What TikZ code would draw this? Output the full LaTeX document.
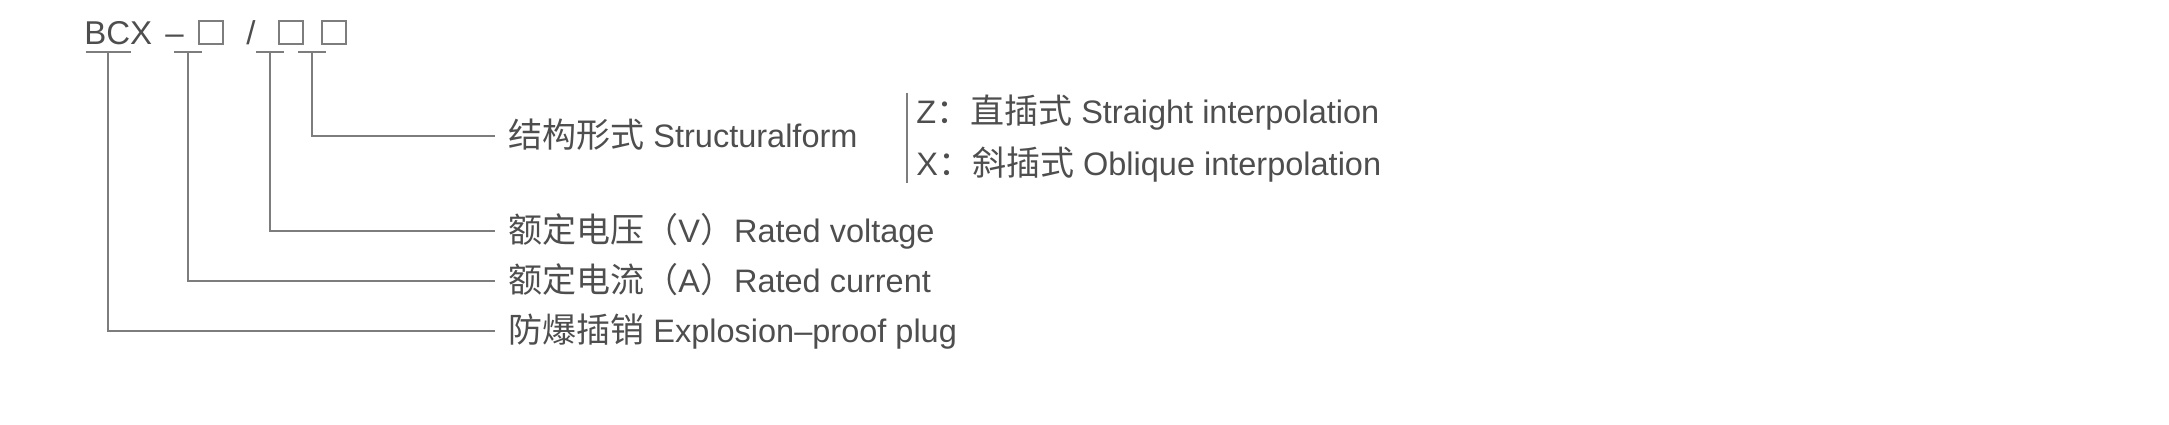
\documentclass[tikz,border=0pt]{standalone}
\usepackage{fontspec}
\setmainfont{Liberation Sans}
\newfontfamily\cjk[Scale=1.046]{Noto Sans CJK SC}
\definecolor{txtgray}{RGB}{78,78,78}
\definecolor{linegray}{RGB}{125,125,125}
\tikzset{
  leader/.style={draw=linegray, line width=0.8pt},
  codetext/.style={anchor=base west, inner sep=0pt, text=txtgray, font=\fontsize{16.5pt}{18pt}\selectfont},
  slot/.style={draw=linegray, line width=0.9pt, inner sep=0pt, minimum width=12.3pt, minimum height=11.8pt},
  desc/.style={anchor=west, inner ysep=0pt, inner xsep=6.5pt, text=txtgray, text height=15pt, text depth=4pt, font=\fontsize{16.25pt}{18pt}\selectfont},
  option/.style={desc, inner xsep=4.5pt},
}
\begin{document}
\begin{tikzpicture}[x=0.5pt,y=-0.5pt]
    \useasboundingbox (0,0) rectangle (2169,424);

    % Model code
    \node[codetext] (bcx) at (84,44) {BCX};
    \node[codetext] (dash) at (165,44) {–};
    \node[slot] (b1) at (211,32.5) {};
    \node[codetext] (slash) at (246,44) {/};
    \node[slot] (b2) at (291,32.5) {};
    \node[slot] (b3) at (334,32.5) {};

    % Ticks under the code
    \coordinate (tb) at (108,52);
    \coordinate (t1) at (188,52);
    \coordinate (t2) at (270,52);
    \coordinate (t3) at (312,52);
    \foreach \t/\w in {tb/22.5, t1/14, t2/14, t3/14}
        \draw[leader] ([xshift=-\w*0.5pt]\t) -- ([xshift=\w*0.5pt]\t);

    % Descriptions
    \node[desc] (form) at (495,136) {{\cjk 结构形式} Structuralform};
    \node[desc] (volt) at (495,231) {{\cjk 额定电压（}V{\cjk ）}Rated voltage};
    \node[desc] (curr) at (495,281) {{\cjk 额定电流（}A{\cjk ）}Rated current};
    \node[desc] (plug) at (495,331) {{\cjk 防爆插销} Explosion–proof plug};

    % Structural form options
    \node[option] (zopt) at (907,112) {Z{\cjk ：直插式} Straight interpolation};
    \node[option] (xopt) at (907,164) {X{\cjk ：斜插式} Oblique interpolation};
    \draw[leader] (zopt.north west) -- (xopt.south west);

    % Leaders
    \draw[leader] (t3) |- (form.west);
    \draw[leader] (t2) |- (volt.west);
    \draw[leader] (t1) |- (curr.west);
    \draw[leader] (tb) |- (plug.west);
\end{tikzpicture}
\end{document}
